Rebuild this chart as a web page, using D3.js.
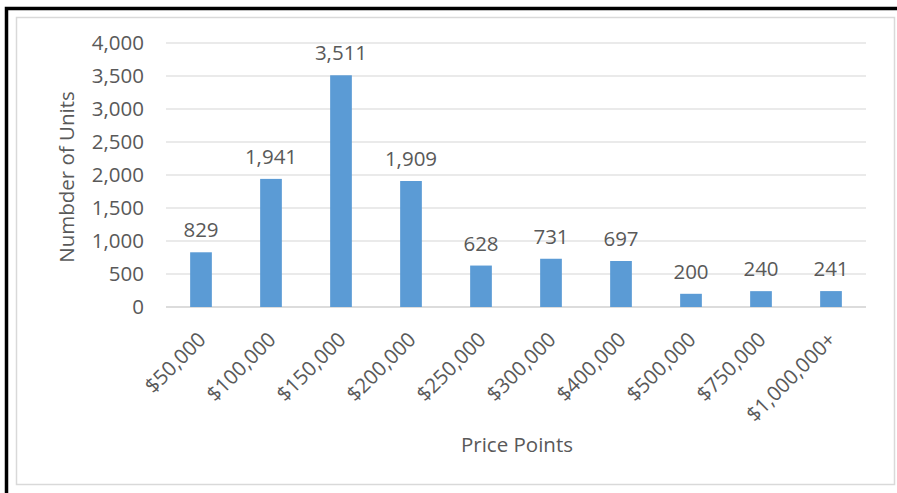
<!DOCTYPE html>
<html>
<head>
<meta charset="utf-8">
<script src="https://cdn.jsdelivr.net/npm/d3@7"></script>
<style>
    body { margin: 0; background: #fff; }
    svg text { font-family: "Open Sans", sans-serif; fill: #595959; }
</style>
</head>
<body>
<div id="chart"></div>
<script>
// Price point categories and unit counts
const categories = ["$50,000", "$100,000", "$150,000", "$200,000", "$250,000",
    "$300,000", "$400,000", "$500,000", "$750,000", "$1,000,000+"];
const units = [829, 1941, 3511, 1909, 628, 731, 697, 200, 240, 241];
const yTicks = [0, 500, 1000, 1500, 2000, 2500, 3000, 3500, 4000];

const width = 897, height = 493;
const plot = { left: 166, right: 866, top: 43, bottom: 307 };
const fontSize = 20.5;

const svg = d3.select("#chart")
    .append("svg")
    .attr("width", width)
    .attr("height", height);

// Outer black frame and inner grey chart border
svg.append("rect")
    .attr("x", 6.5).attr("y", 8.5)
    .attr("width", 900).attr("height", 500)
    .attr("fill", "none")
    .attr("stroke", "#000")
    .attr("stroke-width", 3.5);

svg.append("rect")
    .attr("x", 16.5).attr("y", 17.5)
    .attr("width", 878).attr("height", 467)
    .attr("fill", "#fff")
    .attr("stroke", "#d9d9d9")
    .attr("stroke-width", 1.5);

const x = d3.scaleBand()
    .domain(categories)
    .range([plot.left, plot.right])
    .paddingInner(0.69)
    .paddingOuter(0.345);

const y = d3.scaleLinear()
    .domain([0, 4000])
    .range([plot.bottom, plot.top]);

// Gridlines
svg.append("g")
    .selectAll("line")
    .data(yTicks)
    .join("line")
    .attr("x1", plot.left)
    .attr("x2", plot.right)
    .attr("y1", d => y(d))
    .attr("y2", d => y(d))
    .attr("stroke", d => d === 0 ? "#d0d0d0" : "#e3e3e3")
    .attr("stroke-width", 1.3);

// Y axis labels
const yAxis = svg.append("g")
    .attr("transform", `translate(${plot.left - 22},0)`)
    .call(d3.axisLeft(y).tickValues(yTicks).tickFormat(d3.format(",")).tickSize(0).tickPadding(0));
yAxis.select(".domain").remove();
yAxis.selectAll("text")
    .attr("font-size", fontSize)
    .attr("fill", "#595959")
    .attr("font-family", "Open Sans, sans-serif");

// Bars
svg.append("g")
    .selectAll("rect")
    .data(units)
    .join("rect")
    .attr("x", (d, i) => x(categories[i]))
    .attr("y", d => y(d))
    .attr("width", x.bandwidth())
    .attr("height", d => y(0) - y(d))
    .attr("fill", "#5b9bd5");

// Data labels
svg.append("g")
    .selectAll("text")
    .data(units)
    .join("text")
    .attr("x", (d, i) => x(categories[i]) + x.bandwidth() / 2)
    .attr("y", d => y(d) - 15)
    .attr("text-anchor", "middle")
    .attr("font-size", fontSize)
    .text(d => d3.format(",")(d));

// X axis labels, rotated
const xAxis = svg.append("g")
    .attr("transform", `translate(0,${plot.bottom})`)
    .call(d3.axisBottom(x).tickSize(0).tickPadding(0));
xAxis.select(".domain").remove();
xAxis.selectAll("text")
    .attr("font-size", fontSize)
    .attr("fill", "#595959")
    .attr("font-family", "Open Sans, sans-serif")
    .attr("text-anchor", "end")
    .attr("dy", null)
    .attr("y", 0)
    .attr("transform", "translate(6,34) rotate(-45)");

// Axis titles
svg.append("text")
    .attr("transform", "translate(74,177) rotate(-90)")
    .attr("text-anchor", "middle")
    .attr("font-size", fontSize)
    .text("Numbder of Units");

svg.append("text")
    .attr("x", 517)
    .attr("y", 452)
    .attr("text-anchor", "middle")
    .attr("font-size", fontSize)
    .text("Price Points");
</script>
</body>
</html>
